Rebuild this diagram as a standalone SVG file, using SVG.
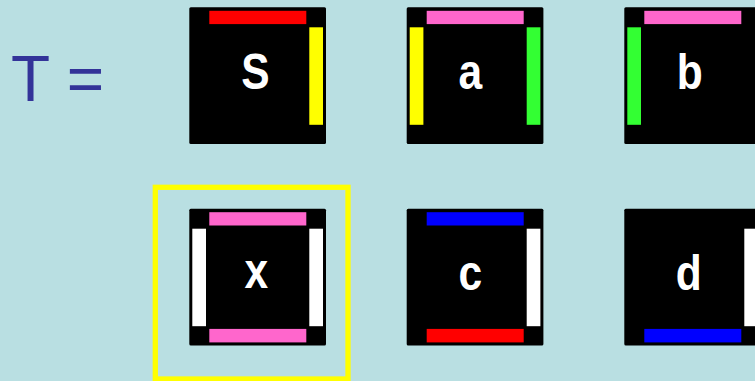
<svg xmlns="http://www.w3.org/2000/svg" width="755" height="381" viewBox="0 0 755 381">
<style>
.tile{fill:#000;}
.lbl{font-family:"Liberation Sans",Arial,sans-serif;font-weight:bold;font-size:50px;fill:#fff;text-anchor:middle;}
.eq{font-family:"Liberation Sans",Arial,sans-serif;font-size:64px;fill:#333399;}
.red{fill:#ff0000}.yel{fill:#ffff00}.pink{fill:#ff66cc}.grn{fill:#33ff33}.blu{fill:#0000ff}.wht{fill:#ffffff}
</style>
<defs>
<rect id="top" x="20" y="3.5" width="97" height="13.3"/>
<rect id="bot" x="20" y="120.2" width="97" height="13.5"/>
<rect id="lft" x="3" y="20" width="13.7" height="97.5"/>
<rect id="rgt" x="120" y="20" width="13.7" height="97.5"/>
</defs>
<rect x="0" y="0" width="755" height="381" fill="#b9dfe2"/>
<text class="eq" x="11" y="101.3">T =</text>

<g id="tile-S" transform="translate(189.3,7.3)">
<rect class="tile" width="136.7" height="136.7" rx="1.5"/>
<use href="#top" class="red"/>
<use href="#rgt" class="yel"/>
<text class="lbl" transform="translate(66,81.5) scale(0.85,1)">S</text>
</g>

<g id="tile-a" transform="translate(406.7,7.3)">
<rect class="tile" width="136.7" height="136.7" rx="1.5"/>
<use href="#top" class="pink"/>
<use href="#lft" class="yel"/>
<use href="#rgt" class="grn"/>
<text class="lbl" transform="translate(63.5,81.5) scale(0.85,1)">a</text>
</g>

<g id="tile-b" transform="translate(624.3,7.3)">
<rect class="tile" width="136.7" height="136.7" rx="1.5"/>
<use href="#top" class="pink"/>
<use href="#lft" class="grn"/>
<text class="lbl" transform="translate(65.5,81.5) scale(0.85,1)">b</text>
</g>

<g id="tile-x" transform="translate(189.3,208.7)">
<rect class="tile" width="136.7" height="136.7" rx="1.5"/>
<use href="#top" class="pink"/>
<use href="#bot" class="pink"/>
<use href="#lft" class="wht"/>
<use href="#rgt" class="wht"/>
<text class="lbl" transform="translate(67,79) scale(0.85,1)">x</text>
</g>

<g id="tile-c" transform="translate(406.7,208.7)">
<rect class="tile" width="136.7" height="136.7" rx="1.5"/>
<use href="#top" class="blu"/>
<use href="#bot" class="red"/>
<use href="#rgt" class="wht"/>
<text class="lbl" transform="translate(63.5,81.5) scale(0.85,1)">c</text>
</g>

<g id="tile-d" transform="translate(624.3,208.7)">
<rect class="tile" width="136.7" height="136.7" rx="1.5"/>
<use href="#bot" class="blu"/>
<use href="#rgt" class="wht"/>
<text class="lbl" transform="translate(64.5,81.5) scale(0.85,1)">d</text>
</g>

<g id="highlight">
<rect x="155.3" y="187.3" width="192.7" height="191.7" fill="none" stroke="#ffff00" stroke-width="5.3"/>
</g>
</svg>
